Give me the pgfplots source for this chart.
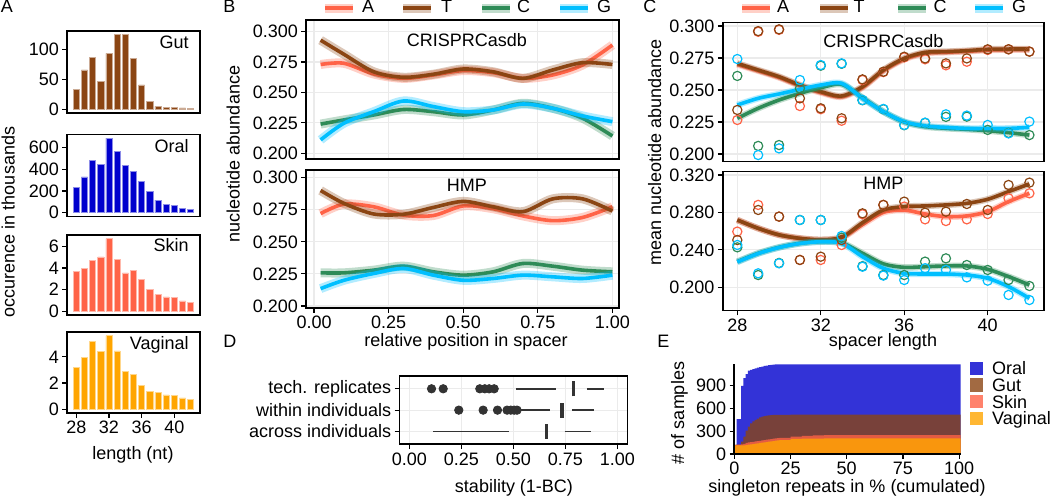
\documentclass[border=0pt]{standalone}
\usepackage{fontspec}
\setmainfont{Liberation Sans}
\usepackage{pgfplots}
\usepackage{pgfplotstable}
\pgfplotsset{compat=1.18}

\definecolor{Ac}{RGB}{255,99,71}
\definecolor{Tc}{RGB}{139,69,19}
\definecolor{Cc}{RGB}{46,139,87}
\definecolor{Gc}{RGB}{0,191,255}
\definecolor{oral}{RGB}{0,0,205}
\definecolor{gut}{RGB}{139,69,19}
\definecolor{skin}{RGB}{255,99,71}
\definecolor{vag}{RGB}{255,165,0}
\definecolor{gridc}{RGB}{235,235,235}
\definecolor{dotc}{RGB}{51,51,51}

\newcommand\fs{\fontsize{9}{10.8}\selectfont}

% A: spacer length histograms (thousands)
\pgfplotstableread{
len gut  oral skin vag
28  33.7 236  3.67 3.20
29  66   330  3.97 3.97
30  87   482  4.69 5.17
31  46.6 445  5.01 4.42
32  93.8 685  6.70 5.62
33  125  567  4.75 4.45
34  125  433  3.55 2.87
35  85   379  3.79 2.65
36  41   291  2.93 1.85
37  13.5 194  2.03 1.35
38  5    115  1.55 1.27
39  3.4  79   1.34 1.10
40  3.4  64   1.28 1.05
41  2.2  39   0.96 0.87
42  1.7  33   0.84 0.78
}\Atab

% B: smoothed abundance along spacer, CRISPRCasdb
\pgfplotstableread{
x     A      T      C      G
0.022 0.2730 0.2930 0.2240 0.2110
0.1   0.2740 0.2814 0.2274 0.2247
0.2   0.2652 0.2670 0.2315 0.2342
0.3   0.2616 0.2625 0.2360 0.2430
0.4   0.2644 0.2650 0.2342 0.2384
0.5   0.2680 0.2693 0.2315 0.2342
0.6   0.2663 0.2670 0.2356 0.2356
0.7   0.2616 0.2616 0.2411 0.2405
0.8   0.2644 0.2685 0.2370 0.2370
0.9   0.2726 0.2745 0.2288 0.2307
1.0   0.2890 0.2730 0.2142 0.2260
}\Bup

% B: HMP
\pgfplotstableread{
x     A      T      C      G
0.022 0.2720 0.2900 0.2258 0.2135
0.1   0.2794 0.2800 0.2258 0.2200
0.2   0.2773 0.2717 0.2279 0.2253
0.3   0.2708 0.2715 0.2310 0.2292
0.4   0.2705 0.2768 0.2266 0.2240
0.5   0.2780 0.2815 0.2240 0.2200
0.6   0.2758 0.2773 0.2266 0.2214
0.7   0.2702 0.2735 0.2331 0.2240
0.8   0.2665 0.2835 0.2310 0.2227
0.9   0.2690 0.2835 0.2279 0.2214
1.0   0.2773 0.2740 0.2266 0.2240
}\Blo

% C: mean abundance by spacer length, CRISPRCasdb (points and smooth)
\pgfplotstableread{
x  A      T      C      G
28 0.2266 0.2344 0.2610 0.2742
29 0.2955 0.2960 0.2063 0.1992
30 0.2970 0.2974 0.2070 0.2044
31 0.2375 0.2435 0.2513 0.2578
32 0.2350 0.2357 0.2690 0.2695
33 0.2260 0.2279 0.2705 0.2708
34 0.2578 0.2583 0.2420 0.2422
35 0.2640 0.2643 0.2350 0.2352
36 0.2755 0.2760 0.2225 0.2227
37 0.2740 0.2747 0.2243 0.2245
38 0.2693 0.2708 0.2290 0.2310
39 0.2721 0.2747 0.2292 0.2300
40 0.2813 0.2818 0.2188 0.2227
41 0.2818 0.2818 0.2165 0.2161
42 0.2800 0.2800 0.2148 0.2253
}\Cuppts
\pgfplotstableread{
x  A      T      C      G
28 0.2700 0.2708 0.2279 0.2383
29 0.2650 0.2656 0.2357 0.2435
30 0.2598 0.2604 0.2422 0.2469
31 0.2533 0.2539 0.2474 0.2505
32 0.2480 0.2487 0.2518 0.2539
33 0.2447 0.2453 0.2544 0.2552
34 0.2520 0.2526 0.2440 0.2435
35 0.2650 0.2656 0.2331 0.2331
36 0.2740 0.2747 0.2250 0.2253
37 0.2787 0.2794 0.2214 0.2219
38 0.2795 0.2800 0.2201 0.2208
39 0.2802 0.2807 0.2193 0.2200
40 0.2812 0.2818 0.2182 0.2200
41 0.2815 0.2820 0.2167 0.2200
42 0.2815 0.2820 0.2148 0.2208
}\Cupfit

% C: HMP
\pgfplotstableread{
x  A      T      C      G
28 0.2595 0.2505 0.2427 0.2452
29 0.2880 0.2826 0.2131 0.2149
30 0.2755 0.2755 0.2260 0.2256
31 0.2292 0.2292 0.2719 0.2719
32 0.2292 0.2327 0.2719 0.2719
33 0.2452 0.2505 0.2530 0.2548
34 0.2780 0.2790 0.2225 0.2220
35 0.2880 0.2880 0.2131 0.2125
36 0.2862 0.2915 0.2131 0.2078
37 0.2726 0.2797 0.2274 0.2203
38 0.2708 0.2808 0.2309 0.2185
39 0.2726 0.2890 0.2238 0.2106
40 0.2783 0.2826 0.2185 0.2071
41 0.2951 0.3093 0.2078 0.1918
42 0.3004 0.3118 0.2014 0.1864
}\Clopts
\pgfplotstableread{
x  A      T      C      G
28 0.2719 0.2719 0.2274 0.2270
29 0.2630 0.2630 0.2363 0.2360
30 0.2560 0.2560 0.2427 0.2425
31 0.2522 0.2523 0.2470 0.2468
32 0.2505 0.2508 0.2488 0.2486
33 0.2530 0.2534 0.2475 0.2470
34 0.2670 0.2690 0.2363 0.2327
35 0.2800 0.2826 0.2250 0.2203
36 0.2825 0.2862 0.2213 0.2149
37 0.2783 0.2869 0.2220 0.2142
38 0.2755 0.2880 0.2228 0.2142
39 0.2762 0.2897 0.2228 0.2131
40 0.2808 0.2940 0.2192 0.2096
41 0.2915 0.3022 0.2114 0.2007
42 0.3004 0.3104 0.2025 0.1882
}\Clofit

% E: samples with cumulated singleton repeats (cumulative tops, drawn overlapping)
\pgfplotstableread{
x     oral gut skin vag
0     120  120 120  112
1     460  122 122  112
2     460  124 124  112
3     896  162 128  113
4     1000 230 133  115
5     1054 307 148  118
6     1097 360 152  122
7     1110 404 156  127
8     1119 430 161  131
9     1128 448 165  136
10    1137 465 170  140
11    1145 483 174  145
12    1152 492 179  149
13    1160 500 184  153
14    1166 505 188  158
15    1171 509 192  162
16    1175 512 197  166
17    1178 514 201  171
18    1180 515 205  175
19    1181 516 210  180
20    1182 517 214  184
25    1182 518 228  198
30    1182 518 238  202
35    1182 518 246  204
40    1182 518 250  206
100.7 1182 518 250  206
}\Etab

\pgfplotsset{
  panelbase/.style={scale only axis, anchor=north west, font=\fs,
    axis line style={line width=0.8pt},
    tick align=outside, major tick length=2.4pt,
    tick style={black, line width=0.6pt},
    xtick pos=left, ytick pos=left,
    scaled ticks=false,
    /pgf/number format/assume math mode=true,
    ticklabel style={font=\fs, inner sep=1.5pt}},
  gg/.style={panelbase, grid=major, major grid style={draw=gridc, line width=0.6pt}},
  histo/.style={panelbase, width=66.5pt, xmin=26.86, xmax=43.14, ybar, bar width=0.75, xtick=\empty},
  abar/.style={fill=#1, draw=#1!45!white, line width=0.3pt},
  Bpanel/.style={gg, width=156.5pt, height=69.5pt, xmin=-0.027, xmax=1.022,
    xtick={0,0.25,0.5,0.75,1}, xticklabels={}, xtick style={draw=none}},
  Cpanel/.style={gg, width=160.65pt, height=69.5pt, xmin=27.3, xmax=42.7,
    xtick={28,32,36,40}, xticklabels={}, xtick style={draw=none}},
}
\newcommand\rib[4]{%
  \addplot[smooth, draw=#3, draw opacity=0.3, line width=#4] table[x=x,y=#2]{#1};
  \addplot[smooth, draw=#3, line width=1.8pt] table[x=x,y=#2]{#1};}
\newcommand\pts[3]{%
  \addplot[only marks, mark=o, mark size=2.3pt, draw=#3, mark options={line width=0.6pt}] table[x=x,y=#2]{#1};}

\begin{document}
\fs
\begin{tikzpicture}[every node/.style={font=\fs}]
\useasboundingbox (0,0) rectangle (525pt,250.5pt);

% ---------------- A
\begin{axis}[histo, at={(33.5pt,235pt)}, height=41pt, ymin=-6.25, ymax=131.25, ytick={0,50,100}]
\addplot[abar=gut] table[x=len,y=gut]{\Atab};
\node[anchor=base east, xshift=-2.5pt, yshift=-9pt] at (rel axis cs:1,1) {Gut};
\end{axis}
\begin{axis}[histo, at={(33.5pt,183.25pt)}, height=41pt, ymin=-34.25, ymax=719.25, ytick={0,200,400,600}]
\addplot[abar=oral] table[x=len,y=oral]{\Atab};
\node[anchor=base east, xshift=-2.5pt, yshift=-9pt] at (rel axis cs:1,1) {Oral};
\end{axis}
\begin{axis}[histo, at={(33.5pt,133pt)}, height=40pt, ymin=-0.335, ymax=7.035, ytick={0,2,4,6}]
\addplot[abar=skin] table[x=len,y=skin]{\Atab};
\node[anchor=base east, xshift=-2.5pt, yshift=-8.5pt] at (rel axis cs:1,1) {Skin};
\end{axis}
\begin{axis}[histo, at={(33.5pt,84.5pt)}, height=40.5pt, ymin=-0.281, ymax=5.901, ytick={0,2,4},
  xtick={28,32,36,40}]
\addplot[abar=vag] table[x=len,y=vag]{\Atab};
\node[anchor=base east, xshift=-2.5pt, yshift=-9pt] at (rel axis cs:1,1) {Vaginal};
\end{axis}

% ---------------- B
\begin{axis}[Bpanel, at={(153pt,240.5pt)}, ymin=0.1953, ymax=0.3096,
  ytick={0.2,0.225,0.25,0.275,0.3}, yticklabels={0.200,0.225,0.250,0.275,0.300}]
\rib{\Bup}{A}{Ac}{4.5pt}
\rib{\Bup}{T}{Tc}{4.5pt}
\rib{\Bup}{C}{Cc}{4.5pt}
\rib{\Bup}{G}{Gc}{4.5pt}
\node[anchor=base, xshift=2.2pt, yshift=-13.3pt] at (rel axis cs:0.5,1) {CRISPRCasdb};
\end{axis}
\begin{axis}[Bpanel, at={(153pt,165.5pt)}, height=69pt, ymin=0.1984, ymax=0.306,
  ytick={0.2,0.225,0.25,0.275,0.3}, yticklabels={0.200,0.225,0.250,0.275,0.300},
  xticklabels={0.00,0.25,0.50,0.75,1.00}, xtick style={draw=black}]
\rib{\Blo}{A}{Ac}{4.5pt}
\rib{\Blo}{T}{Tc}{4.5pt}
\rib{\Blo}{C}{Cc}{4.5pt}
\rib{\Blo}{G}{Gc}{4.5pt}
\node[anchor=base, xshift=2.2pt, yshift=-10.85pt] at (rel axis cs:0.5,1) {HMP};
\end{axis}

% ---------------- C
\begin{axis}[Cpanel, at={(361.35pt,239.15pt)}, ymin=0.194, ymax=0.3026,
  ytick={0.2,0.225,0.25,0.275,0.3}, yticklabels={0.200,0.225,0.250,0.275,0.300}]
\pts{\Cuppts}{A}{Ac}
\pts{\Cuppts}{T}{Tc}
\pts{\Cuppts}{C}{Cc}
\pts{\Cuppts}{G}{Gc}
\rib{\Cupfit}{A}{Ac}{3.2pt}
\rib{\Cupfit}{T}{Tc}{3.2pt}
\rib{\Cupfit}{C}{Cc}{3.2pt}
\rib{\Cupfit}{G}{Gc}{3.2pt}
\node[anchor=base, yshift=-12.3pt] at (rel axis cs:0.5,1) {CRISPRCasdb};
\end{axis}
\begin{axis}[Cpanel, at={(361.35pt,164.65pt)}, ymin=0.175, ymax=0.3235,
  ytick={0.2,0.24,0.28,0.32}, yticklabels={0.200,0.240,0.280,0.320},
  xticklabels={28,32,36,40}, xtick style={draw=black}]
\pts{\Clopts}{A}{Ac}
\pts{\Clopts}{T}{Tc}
\pts{\Clopts}{C}{Cc}
\pts{\Clopts}{G}{Gc}
\rib{\Clofit}{A}{Ac}{3.2pt}
\rib{\Clofit}{T}{Tc}{3.2pt}
\rib{\Clofit}{C}{Cc}{3.2pt}
\rib{\Clofit}{G}{Gc}{3.2pt}
\node[anchor=base, yshift=-9.15pt] at (rel axis cs:0.5,1) {HMP};
\end{axis}

% ---------------- D
\begin{axis}[gg, at={(199.65pt,62.5pt)}, width=114pt, height=34.15pt,
  xmin=-0.048, xmax=1.048, ymin=0.4, ymax=3.6,
  xtick={0,0.25,0.5,0.75,1}, xticklabels={0.00,0.25,0.50,0.75,1.00},
  ytick={1,2,3}, yticklabels={across individuals,within individuals,tech. replicates}]
% tech. replicates
\addplot[dotc, line width=0.95pt] coordinates {(0.512,3) (0.707,3)};
\addplot[dotc, line width=0.95pt] coordinates {(0.854,3) (0.934,3)};
\addplot[dotc, line width=1.7pt] coordinates {(0.790,2.65) (0.790,3.35)};
\addplot[only marks, mark=*, mark size=2.1pt, dotc] coordinates {(0.107,3) (0.163,3) (0.339,3) (0.363,3) (0.384,3) (0.408,3)};
% within individuals
\addplot[dotc, line width=0.95pt] coordinates {(0.528,2) (0.675,2)};
\addplot[dotc, line width=0.95pt] coordinates {(0.782,2) (0.888,2)};
\addplot[dotc, line width=1.7pt] coordinates {(0.734,1.65) (0.734,2.35)};
\addplot[only marks, mark=*, mark size=2.1pt, dotc] coordinates {(0.238,2) (0.355,2) (0.424,2) (0.470,2) (0.488,2) (0.504,2) (0.518,2)};
% across individuals
\addplot[dotc, line width=0.95pt] coordinates {(0.115,1) (0.480,1)};
\addplot[dotc, line width=0.95pt] coordinates {(0.747,1) (0.875,1)};
\addplot[dotc, line width=1.7pt] coordinates {(0.660,0.65) (0.660,1.35)};
\end{axis}

% ---------------- E
\begin{axis}[panelbase, at={(367.15pt,68.35pt)}, width=113.2pt, height=44.85pt,
  xmin=0, xmax=100.7, ymin=0, ymax=1182, axis on top,
  axis x line*=bottom, axis y line*=left, axis line style={-, line width=0.9pt},
  xtick={0,25,50,75,100}, ytick={0,300,600,900}]
\addplot[const plot, fill=oral, fill opacity=0.8, draw=none] table[x=x,y=oral]{\Etab} \closedcycle;
\addplot[const plot, fill=gut, fill opacity=0.8, draw=none] table[x=x,y=gut]{\Etab} \closedcycle;
\addplot[const plot, fill=skin, fill opacity=0.8, draw=none] table[x=x,y=skin]{\Etab} \closedcycle;
\addplot[const plot, fill=vag, fill opacity=0.8, draw=none] table[x=x,y=vag]{\Etab} \closedcycle;
\end{axis}

% ---------------- legends (A T C G)
\foreach \x/\c/\t/\l in {162.5/Ac/180.85/A, 201.5/Tc/220.35/T, 241/Cc/258.35/C, 280/Gc/298.35/G,
                        371/Ac/388.35/A, 410/Tc/426.65/T, 449/Cc/466.65/C, 487.5/Gc/505.85/G}{
  \draw[\c, line width=4.3pt, draw opacity=0.3] (\x*1pt,246.35pt) -- ++(14.15pt,0);
  \draw[\c, line width=1.8pt] (\x*1pt,246.35pt) -- ++(14.15pt,0);
  \node[anchor=base west, inner sep=0] at (\t*1pt,244.15pt) {\l};
}
% legend E
\foreach \y/\c/\l in {66.35/oral/Oral, 58/gut/Gut, 49.65/skin/Skin, 41.35/vag/Vaginal}{
  \fill[\c, fill opacity=0.8] (485pt,\y*1pt-3.33pt) rectangle (491.65pt,\y*1pt+3.33pt);
  \node[anchor=base west, inner sep=0] at (495.85pt,\y*1pt-3.2pt) {\l};
}

% ---------------- panel letters and axis titles
\node[anchor=base west, inner sep=0] at (0.25pt,244.15pt) {A};
\node[anchor=base west, inner sep=0] at (111.5pt,244.15pt) {B};
\node[anchor=base west, inner sep=0] at (321.5pt,244.15pt) {C};
\node[anchor=base west, inner sep=0] at (111.5pt,76.5pt) {D};
\node[anchor=base west, inner sep=0] at (328.5pt,76.5pt) {E};

\node[rotate=90, anchor=base, inner sep=0] at (7.25pt,139.5pt) {occurence in thousands};
\node[anchor=base, inner sep=0] at (66.5pt,20.75pt) {length (nt)};
\node[rotate=90, anchor=base, inner sep=0] at (119.75pt,173.5pt) {nucleotide abundance};
\node[anchor=base, inner sep=0] at (233pt,77.25pt) {relative position in spacer};
\node[rotate=90, anchor=base, inner sep=0] at (330.5pt,174.25pt) {mean nucleotide abundance};
\node[anchor=base, inner sep=0] at (441.5pt,77.25pt) {spacer length};
\node[anchor=base, inner sep=0] at (257pt,4pt) {stability (1-BC)};
\node[anchor=base, inner sep=0] at (423.5pt,4pt) {singleton repeats in \% (cumulated)};
\node[rotate=90, anchor=base, inner sep=0] at (342pt,44pt) {\# of samples};
\end{tikzpicture}
\end{document}
